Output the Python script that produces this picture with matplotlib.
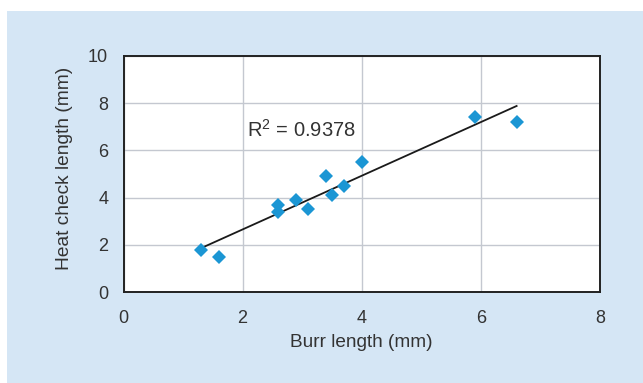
import numpy as np
import matplotlib
matplotlib.use("Agg")
import matplotlib.pyplot as plt
from matplotlib.patches import Rectangle

burr = [1.3, 1.6, 2.6, 2.6, 2.9, 3.1, 3.4, 3.5, 3.7, 4.0, 5.9, 6.6]
heat = [1.8, 1.5, 3.7, 3.4, 3.9, 3.5, 4.9, 4.1, 4.5, 5.5, 7.4, 7.2]
xticks = [0, 2, 4, 6, 8]
yticks = [0, 2, 4, 6, 8, 10]
r2_text = "R$^{2}$ = 0.9378"

plt.rcParams['font.family'] = ['Liberation Sans', 'DejaVu Sans']
plt.rcParams['mathtext.fontset'] = 'custom'
plt.rcParams['mathtext.rm'] = 'Liberation Sans'
plt.rcParams['mathtext.it'] = 'Liberation Sans'
plt.rcParams['mathtext.default'] = 'regular'

fig = plt.figure(figsize=(6.43, 3.83), dpi=100)
fig.patch.set_facecolor('white')
bg = Rectangle((7/643, 0), 1 - 7/643, (383 - 11)/383, transform=fig.transFigure,
               facecolor='#D5E6F5', edgecolor='none', zorder=-10)
fig.patches.append(bg)

ax = fig.add_axes([123.5/643, (383-292.3)/383, (600-123.5)/643, (292.3-55.7)/383])
ax.set_zorder(1)
ax.set_facecolor('white')
ax.set_xlim(0, 8)
ax.set_ylim(0, 10)
ax.set_xticks(xticks)
ax.set_yticks(yticks)
ax.grid(True, color='#C4C8D0', linewidth=1.0)
ax.set_axisbelow(True)
for s in ax.spines.values():
    s.set_color('#222222')
    s.set_linewidth(1.4)
ax.tick_params(length=0, labelsize=13, colors='#333333')
ax.tick_params(axis='x', pad=13)
ax.tick_params(axis='y', pad=11)

x = np.array(burr)
y = np.array(heat)
m, b = np.polyfit(x, y, 1)
xl = np.array([x.min(), x.max()])
ax.plot(xl, m*xl + b, color='#1a1a1a', linewidth=1.3, zorder=3)
ax.plot(x, y, linestyle='none', marker='D', markersize=7.2, color='#1B96D4',
        markeredgewidth=0, zorder=4)

ax.text(2.08, 6.86, r2_text, fontsize=14.5, color='#333333', va='center', ha='left')

ax.set_xlabel('Burr length (mm)', fontsize=13.7, color='#333333', labelpad=5)
ax.set_ylabel('Heat check length (mm)', fontsize=13.8, color='#333333')
ax.yaxis.set_label_coords(-0.107, 0.523)

fig.savefig('out.png', dpi=100, facecolor='white')
